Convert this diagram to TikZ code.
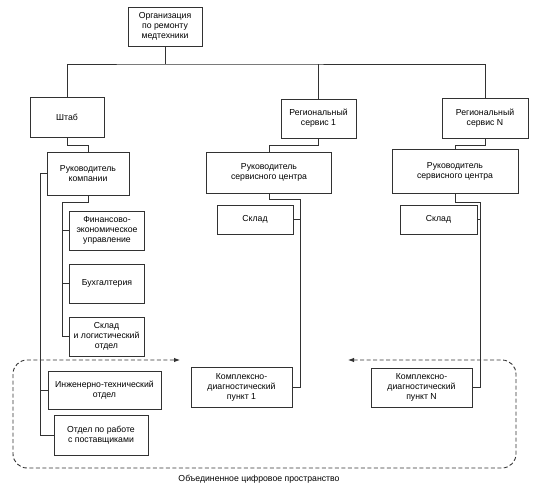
\documentclass[tikz,border=0pt]{standalone}
\usepackage{fontspec}
\setmainfont{Liberation Sans}
\usepackage{tikz}
\usetikzlibrary{arrows.meta}
\definecolor{linegray}{RGB}{50,50,50}

\begin{document}
\begin{tikzpicture}[x=1pt,y=-1pt,
  box/.style={draw=linegray,line width=0.75pt,align=center,inner sep=1pt,
              font=\fontsize{8.7}{10}\selectfont,minimum width=75pt,minimum height=39pt},
  link/.style={draw=linegray,line width=0.75pt},
  space/.style={draw=linegray,line width=0.9pt,dash pattern=on 4pt off 2.5pt,rounded corners=14pt,
                {Latex[length=6pt,width=4.5pt]}-{Latex[length=6pt,width=4.5pt]}}
]
  \useasboundingbox (0,0) rectangle (536,487);
  \node[box,minimum width=74pt] (org) at (165,26.5) {Организация\\по ремонту\\медтехники};
  \node[box,minimum width=74pt,minimum height=40pt] (shtab) at (67,117) {Штаб};
  \node[box] (reg1) at (318.5,118.5) {Региональный\\сервис 1};
  \node[box,minimum width=86pt,minimum height=40pt] (regN) at (485,118) {Региональный\\сервис N};
  \node[box,minimum width=82pt,minimum height=43pt] (rukK) at (88,173.5) {Руководитель\\компании};
  \node[box,minimum width=125pt,minimum height=41pt] (ruk1) at (269,172.5) {Руководитель\\сервисного центра};
  \node[box,minimum width=126pt,minimum height=44pt] (rukN) at (455,171) {Руководитель\\сервисного центра};
  \node[box] (fin) at (107,230.5) {Финансово-\\экономическое\\управление};
  \node[box] (buh) at (107,283.5) {Бухгалтерия};
  \node[box] (sklL) at (106.5,336.5) {Склад\\и логистический\\отдел};
  \node[box,minimum width=113pt,minimum height=38pt] (ing) at (104.5,390) {Инженерно-технический\\отдел};
  \node[box,minimum width=94pt,minimum height=40pt] (otd) at (101,435) {Отдел по работе\\с поставщиками};
  \node[box,minimum width=76pt,minimum height=29pt] (skl1) at (255,219.5) {Склад};
  \node[box,minimum width=77pt,minimum height=29pt] (sklN) at (438.5,219.5) {Склад};
  \node[box,minimum width=101pt,minimum height=40pt] (kdp1) at (241.5,387) {Комплексно-\\диагностический\\пункт 1};
  \node[box,minimum width=101pt] (kdpN) at (421.5,387.5) {Комплексно-\\диагностический\\пункт N};
  \node[font=\fontsize{8.7}{10}\selectfont] (lbl) at (259,479) {Объединенное цифровое пространство};

  \coordinate (bus) at (165,64);
  \draw[link] (org) -- (bus);
  \draw[link] (shtab.north) |- (bus) -| (regN.north);
  \draw[link] (reg1.north) -- (reg1.north |- bus);
  \draw[link] (shtab.south) -- ++(0,8) -| (rukK.north);
  \draw[link] (reg1.south) -- ++(0,7) -| (ruk1.north);
  \draw[link] (regN.south) -- ++(0,7) -| (rukN.north);

  % departments of the company head
  \coordinate (kx) at (62,202);
  \draw[link] (rukK.south) |- (kx) |- (sklL.west);
  \draw[link] (fin.west) -- (fin.west -| kx);
  \draw[link] (buh.west) -- (buh.west -| kx);
  \coordinate (lx) at (40,173.5);
  \draw[link] (rukK.west) -- (lx) |- (otd.west);
  \draw[link] (ing.west) -- (ing.west -| lx);

  % service centres
  \coordinate (sx1) at (300,199);
  \draw[link] (ruk1.south) |- (sx1) |- (kdp1.east);
  \draw[link] (skl1.east) -- (skl1.east -| sx1);
  \coordinate (sxN) at (480,202);
  \draw[link] (rukN.south) |- (sxN) |- (kdpN.east);
  \draw[link] (sklN.east) -- (sklN.east -| sxN);

  \coordinate (fl) at (180,360);
  \coordinate (fr) at (348,360);
  \draw[space] (fr) -- (516,360) -- (516,468) -- (13,468) -- (13,360) -- (fl);
\end{tikzpicture}
\end{document}
